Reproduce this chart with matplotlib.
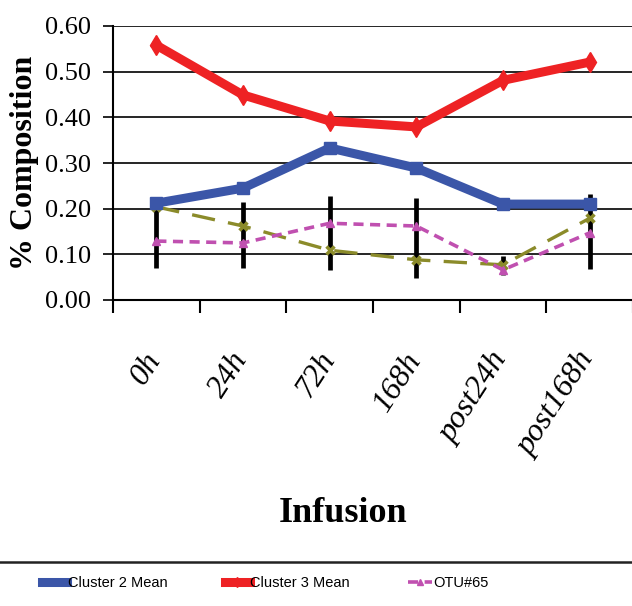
import numpy as np
import matplotlib
matplotlib.use("Agg")
from matplotlib import pyplot as plt
from matplotlib.lines import Line2D
import matplotlib.transforms as mtransforms

# data
times = ["0h", "24h", "72h", "168h", "post24h", "post168h"]
cluster2 = [0.212, 0.245, 0.333, 0.289, 0.210, 0.210]
cluster3 = [0.558, 0.449, 0.392, 0.379, 0.481, 0.521]
otu65 = [0.129, 0.125, 0.168, 0.162, 0.066, 0.147]
olive = [0.204, 0.162, 0.109, 0.088, 0.077, 0.179]
err_low = [0.070, 0.070, 0.066, 0.048, 0.055, 0.068]
err_high = [0.204, 0.215, 0.228, 0.223, 0.096, 0.232]
yticks = [0.0, 0.1, 0.2, 0.3, 0.4, 0.5, 0.6]

fig = plt.figure(figsize=(6.32, 6.06), dpi=100)
ax = fig.add_axes([113 / 632, 306 / 606, 520 / 632, 274 / 606])

x = np.arange(len(times))

# horizontal grid
for v in yticks:
    ax.axhline(v, color="black", lw=1.2, zorder=1)

# black error bars
ax.vlines(x, err_low, err_high, color="black", lw=3.4, zorder=2)

ax.plot(x, olive, color="#8b8b2a", lw=2.4, dashes=(7, 4), marker="x",
        ms=6, mew=2.5, zorder=3)
ax.plot(x, otu65, color="#c050b0", lw=2.6, dashes=(2.8, 1.8), marker="^",
        ms=6, zorder=4, label="OTU#65")
ax.plot(x, cluster2, color="#3b56a8", lw=6.5, marker="s", ms=9,
        zorder=5, label="Cluster 2 Mean")
ax.plot(x, cluster3, color="#ee2224", lw=6.5, marker="d", ms=10,
        zorder=6, label="Cluster 3 Mean")

ax.set_xlim(-0.5, 5.5)
ax.set_ylim(0, 0.6)
ax.set_yticks(yticks)
ax.set_yticklabels(["%.2f" % v for v in yticks], family="Liberation Serif",
                   fontsize=19)
ax.tick_params(axis="y", length=7, width=1.2, pad=9)

# major ticks at category boundaries, labels at centres
ax.set_xticks(np.arange(-0.5, 6.0, 1.0))
ax.set_xticklabels([])
ax.tick_params(axis="x", which="major", length=9, width=1.5, direction="out")
ax.set_xticks(x, minor=True)
ax.set_xticklabels(times, minor=True, family="Liberation Serif",
                   style="italic", fontsize=23, rotation=57,
                   ha="right", va="top")
ax.tick_params(axis="x", which="minor", length=0, pad=34)
offset = mtransforms.ScaledTranslation(11 / 100, 0, fig.dpi_scale_trans)
for lab in ax.get_xticklabels(minor=True):
    lab.set_transform(lab.get_transform() + offset)

for s in ["top", "right"]:
    ax.spines[s].set_visible(False)
ax.spines["left"].set_linewidth(1.5)
ax.spines["bottom"].set_linewidth(1.5)

ax.set_ylabel("% Composition", family="Liberation Serif", weight="bold",
              fontsize=23, va="center")
ax.yaxis.set_label_coords((25 - 113) / 520, 0.5)
ax.set_xlabel("Infusion", family="Liberation Serif", weight="bold",
              fontsize=26, va="center")
ax.xaxis.set_label_coords((343 - 113) / 520, (300 - 513) / 274)

# separator line above legend
fig.add_artist(Line2D([0, 1], [1 - 562 / 606, 1 - 562 / 606],
                      color="#222222", lw=1.8, transform=fig.transFigure))

h, l = ax.get_legend_handles_labels()
order = [1, 2, 0]
leg = fig.legend([h[i] for i in order], [l[i] for i in order], ncol=3,
                 loc="center left", bbox_to_anchor=(42 / 632, 1 - 583 / 606),
                 frameon=False, borderpad=0, borderaxespad=0,
                 handlelength=1.7, handletextpad=0.05, columnspacing=3.95,
                 prop={"family": "Liberation Sans", "size": 10.5})
for line in leg.get_lines():
    line.set_markersize(5)

fig.savefig("out.png", dpi=100)
